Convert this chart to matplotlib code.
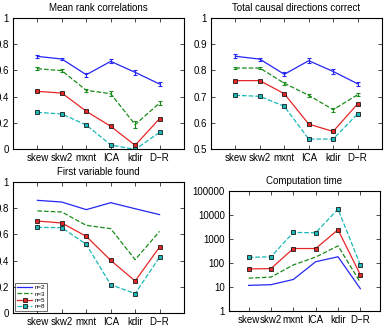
import matplotlib
matplotlib.use("Agg")
import matplotlib.pyplot as plt
import numpy as np

plt.rcParams['font.family'] = ['Liberation Sans', 'DejaVu Sans']

methods = ["skew", "skw2", "mxnt", "ICA", "kdir", "D\u2212R"]
series_labels = ["n=2", "n=3", "n=5", "n=8"]

# Mean rank correlations
rank_corr = {
    "n=2": [0.707, 0.687, 0.567, 0.669, 0.585, 0.496],
    "n=3": [0.613, 0.598, 0.448, 0.422, 0.186, 0.351],
    "n=5": [0.440, 0.427, 0.288, 0.173, 0.028, 0.232],
    "n=8": [0.280, 0.267, 0.183, 0.031, -0.003, 0.127],
}
rank_corr_err = {
    "n=2": [0.012, 0.010, 0.015, 0.015, 0.018, 0.012],
    "n=3": [0.012, 0.012, 0.012, 0.020, 0.025, 0.018],
    "n=5": [0.006, 0.006, 0.006, 0.008, 0.008, 0.008],
    "n=8": [0.005, 0.005, 0.005, 0.006, 0.006, 0.006],
}

# Total causal directions correct
dir_correct = {
    "n=2": [0.854, 0.843, 0.785, 0.837, 0.796, 0.749],
    "n=3": [0.809, 0.809, 0.751, 0.705, 0.650, 0.707],
    "n=5": [0.761, 0.761, 0.711, 0.595, 0.567, 0.672],
    "n=8": [0.705, 0.701, 0.663, 0.538, 0.538, 0.634],
}
dir_correct_err = {
    "n=2": [0.007, 0.006, 0.008, 0.009, 0.010, 0.007],
    "n=3": [0.005, 0.005, 0.005, 0.006, 0.008, 0.006],
    "n=5": [0.003, 0.003, 0.003, 0.003, 0.003, 0.003],
    "n=8": [0.002, 0.002, 0.002, 0.002, 0.002, 0.002],
}

# First variable found
first_found = {
    "n=2": [0.860, 0.847, 0.789, 0.842, 0.796, 0.751],
    "n=3": [0.779, 0.771, 0.669, 0.644, 0.407, 0.623],
    "n=5": [0.702, 0.687, 0.585, 0.402, 0.244, 0.504],
    "n=8": [0.654, 0.651, 0.524, 0.216, 0.148, 0.427],
}

# Computation time
comp_time = {
    "n=2": [11.7, 12.5, 20.6, 113, 182, 8.5],
    "n=3": [23.4, 25.8, 83, 177, 517, 15.6],
    "n=5": [56.6, 58.5, 401, 401, 2420, 32.1],
    "n=8": [171, 182, 1879, 1820, 17650, 83],
}

styles = {
    "n=2": dict(color=(0.15, 0.15, 0.95), ls='-', marker=None),
    "n=3": dict(color=(0.1, 0.55, 0.1), ls='--', marker=None),
    "n=5": dict(color=(0.9, 0.15, 0.15), ls='-', marker='s'),
    "n=8": dict(color=(0.1, 0.72, 0.72), ls='--', marker='s'),
}

W, H = 387, 327
fig = plt.figure(figsize=(W / 100, H / 100), dpi=100)


def px_axes(l, t, r, b):
    return fig.add_axes([l / W, 1 - b / H, (r - l) / W, (b - t) / H])


def style_axes(ax, title, fs=7):
    ax.set_title(title, fontsize=fs, pad=5)
    ax.tick_params(direction='in', top=True, right=True, length=3, width=0.5,
                   labelsize=fs, pad=3)
    for s in ax.spines.values():
        s.set_linewidth(0.8)
    ax.set_xticks(np.arange(1, len(methods) + 1))
    ax.set_xticklabels(methods)


x = np.arange(1, len(methods) + 1)


def draw(ax, data, err=None):
    for lab in series_labels:
        st = styles[lab]
        kw = dict(color=st['color'], ls=st['ls'], lw=0.9, label=lab)
        if st['marker']:
            kw.update(marker='s', ms=3.2, mfc=st['color'], mec=(0.1, 0.1, 0.1), mew=0.6)
        if err is not None:
            ax.errorbar(x, data[lab], yerr=err[lab], ecolor=st['color'],
                        elinewidth=0.8, capsize=1.5, capthick=0.8, **kw)
        else:
            ax.plot(x, data[lab], **kw)


# Top-left
ax1 = px_axes(13, 18, 184, 149)
draw(ax1, rank_corr, rank_corr_err)
ax1.set_xlim(0, 7)
ax1.set_ylim(0, 1)
ax1.set_yticks([0, 0.2, 0.4, 0.6, 0.8, 1])
ax1.set_yticklabels(["0", "0.2", "0.4", "0.6", "0.8", "1"])
style_axes(ax1, "Mean rank correlations")

# Top-right
ax2 = px_axes(211, 18, 382, 149)
draw(ax2, dir_correct, dir_correct_err)
ax2.set_xlim(0, 7)
ax2.set_ylim(0.5, 1)
ax2.set_yticks([0.5, 0.6, 0.7, 0.8, 0.9, 1])
ax2.set_yticklabels(["0.5", "0.6", "0.7", "0.8", "0.9", "1"])
style_axes(ax2, "Total causal directions correct")

# Bottom-left
ax3 = px_axes(13, 182, 184, 313)
draw(ax3, first_found)
ax3.set_xlim(0, 7)
ax3.set_ylim(0, 1)
ax3.set_yticks([0, 0.2, 0.4, 0.6, 0.8, 1])
ax3.set_yticklabels(["0", "0.2", "0.4", "0.6", "0.8", "1"])
style_axes(ax3, "First variable found")
leg = ax3.legend(loc='lower left', fontsize=4.5, handlelength=2.5, borderpad=0.3,
                 labelspacing=0.15, handletextpad=0.4, fancybox=False,
                 borderaxespad=0.3)
leg.get_frame().set_linewidth(0.5)
leg.get_frame().set_edgecolor('black')

# Bottom-right
ax4 = px_axes(229, 191, 380, 311)
draw(ax4, comp_time)
ax4.set_yscale('log')
ax4.set_xlim(0.12, 6.88)
ax4.set_ylim(1, 100000)
ax4.set_yticks([1, 10, 100, 1000, 10000, 100000])
ax4.set_yticklabels(["1", "10", "100", "1000", "10000", "100000"])
ax4.minorticks_off()
style_axes(ax4, "Computation time")

fig.savefig("out.png", dpi=100)
